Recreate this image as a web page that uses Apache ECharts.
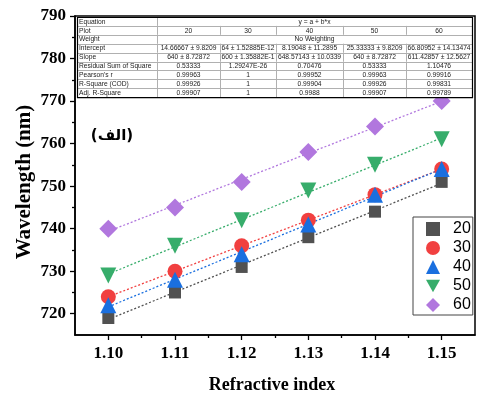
<!DOCTYPE html>
<html><head><meta charset="utf-8">
<script src="https://cdn.jsdelivr.net/npm/echarts@6/dist/echarts.min.js"></script>
<style>html,body{margin:0;padding:0;background:#fff}#c{width:477px;height:396px}</style>
</head><body><div id="c"></div>
<script>
// ---- data ----
const refractive = [1.10, 1.11, 1.12, 1.13, 1.14, 1.15];
const seriesNames = ['20', '30', '40', '50', '60'];
const s20 = [719, 725, 731, 738, 744, 751];
const s30 = [724, 730, 736, 742, 748, 754];
const s40 = [722, 728, 734, 741, 748, 754];
const s50 = [729, 736, 742, 749, 755, 761];
const s60 = [740, 745, 751, 758, 764, 770];
const intercepts = [14.66667, 64, 8.19048, 25.33333, 66.80952];
const slopes = [640, 600, 648.57143, 640, 611.42857];
const yMajorTicks = [720, 730, 740, 750, 760, 770, 780, 790];
const yMinorTicks = [725, 735, 745, 755, 765, 775, 785];
const xMajorTicks = [1.10, 1.11, 1.12, 1.13, 1.14, 1.15];
const xMinorTicks = [1.105, 1.115, 1.125, 1.135, 1.145];
const tableLabels = ['Equation', 'Plot', 'Weight', 'Intercept', 'Slope', 'Residual Sum of Square', "Pearson's r", 'R-Square (COD)', 'Adj. R-Square'];
const equationText = 'y = a + b*x';
const weightText = 'No Weighting';
const interceptText = ['14.66667 \u00b1 9.8209', '64 \u00b1 1.52885E-12', '8.19048 \u00b1 11.2895', '25.33333 \u00b1 9.8209', '66.80952 \u00b1 14.13474'];
const slopeText = ['640 \u00b1 8.72872', '600 \u00b1 1.35882E-1', '648.57143 \u00b1 10.0339', '640 \u00b1 8.72872', '611.42857 \u00b1 12.5627'];
const rssText = ['0.53333', '1.29247E-26', '0.70476', '0.53333', '1.10476'];
const pearsonText = ['0.99963', '1', '0.99952', '0.99963', '0.99916'];
const r2Text = ['0.99926', '1', '0.99904', '0.99926', '0.99831'];
const adjR2Text = ['0.99907', '1', '0.9988', '0.99907', '0.99789'];
const panelLabel = '(\u0627\u0644\u0641)';
const xTitle = 'Refractive index';
const yTitle = 'Wavelength (nm)';

// ---- styles ----
const colors = ['#515151', '#F14040', '#1A6FDF', '#37AD6B', '#B177DE'];
const symbols = ['rect', 'circle', 'triangle', 'path://M0,0 L10,0 L5,9 Z', 'diamond'];
const symSizes = [12, 15, 16, 16, 18];
const allSeries = [s20, s30, s40, s50, s60];

const series = [];
allSeries.forEach((vals, i) => {
  const x0 = refractive[0], x1 = refractive[refractive.length - 1];
  series.push({
    name: 'fit' + seriesNames[i], type: 'line', symbol: 'none', silent: true, z: 2,
    data: [[x0, intercepts[i] + slopes[i] * x0], [x1, intercepts[i] + slopes[i] * x1]],
    lineStyle: { color: colors[i], width: 1.3, type: [2, 2] }
  });
});
allSeries.forEach((vals, i) => {
  series.push({
    name: seriesNames[i], type: 'scatter', z: 5,
    symbol: symbols[i], symbolSize: symSizes[i],
    itemStyle: { color: colors[i], opacity: 1 },
    data: refractive.map((x, j) => [x, vals[j]])
  });
});

// ---- table graphic ----
const T = { x0: 77, x1: 472, y0: 17, rowH: 8.9 };
const colX = [77, 157, 220, 276, 343, 406, 472];
const g = [];
const nRows = tableLabels.length;
const tH = nRows * T.rowH;
g.push({ type: 'rect', z: 100, shape: { x: T.x0, y: T.y0, width: T.x1 - T.x0, height: tH }, style: { fill: '#fff', stroke: null } });
for (let r = 1; r < nRows; r++) {
  const y = Math.round(T.y0 + r * T.rowH) + 0.5;
  g.push({ type: 'line', z: 101, shape: { x1: T.x0, y1: y, x2: T.x1, y2: y }, style: { stroke: '#b0b0b0', lineWidth: 1 } });
}
for (let r = 0; r < nRows; r++) {
  const ya = T.y0 + r * T.rowH, yb = ya + T.rowH;
  const merged = (r === 0 || r === 2);
  const cols = merged ? [colX[1]] : colX.slice(1, 6);
  cols.forEach(cx => {
    g.push({ type: 'line', z: 101, shape: { x1: cx + 0.5, y1: ya, x2: cx + 0.5, y2: yb }, style: { stroke: '#b0b0b0', lineWidth: 1 } });
  });
}
g.push({ type: 'rect', z: 102, shape: { x: T.x0 + 0.5, y: T.y0 + 0.5, width: T.x1 - T.x0, height: tH }, style: { fill: null, stroke: '#000', lineWidth: 1.2 } });
const rowVals = [null, seriesNames, null, interceptText, slopeText, rssText, pearsonText, r2Text, adjR2Text];
const txt = (text, x, y, align) => ({ type: 'text', z: 103, style: { text, x, y, fill: '#222', fontSize: 6.7, fontFamily: 'Liberation Sans, Arial, sans-serif', align, verticalAlign: 'middle' } });
for (let r = 0; r < nRows; r++) {
  const yc = T.y0 + r * T.rowH + T.rowH / 2 + 0.3;
  g.push(txt(tableLabels[r], T.x0 + 2, yc, 'left'));
  if (r === 0 || r === 2) {
    g.push(txt(r === 0 ? equationText : weightText, (colX[1] + colX[6]) / 2, yc, 'center'));
  } else {
    rowVals[r].forEach((v, c) => g.push(txt(v, (colX[c + 1] + colX[c + 2]) / 2, yc, 'center')));
  }
}
g.push({ type: 'text', z: 50, style: { text: panelLabel, x: 112, y: 136, fill: '#000', fontSize: 15, fontWeight: 'bold', fontFamily: 'DejaVu Sans', align: 'center', verticalAlign: 'middle' } });
g.push({ type: 'text', z: 50, style: { text: xTitle, x: 272, y: 385, fill: '#000', fontSize: 18, fontWeight: 'bold', fontFamily: 'Liberation Serif, Times New Roman, serif', align: 'center', verticalAlign: 'middle' } });
g.push({ type: 'text', z: 50, rotation: Math.PI / 2, x: 25, y: 182, style: { text: yTitle, x: 0, y: 0, fill: '#000', fontSize: 21, fontWeight: 'bold', fontFamily: 'Liberation Serif, Times New Roman, serif', align: 'center', verticalAlign: 'middle' } });

const labelFont = { color: '#000', fontSize: 17, fontWeight: 'bold', fontFamily: 'Liberation Serif, Times New Roman, serif' };
const axisLineStyle = { color: '#000', width: 1.5 };

const option = {
  animation: false,
  backgroundColor: '#fff',
  grid: { left: 75, right: 2, top: 16, bottom: 61, show: true, borderColor: '#000', borderWidth: 1.5, backgroundColor: 'transparent' },
  xAxis: [
    { type: 'value', min: 1.095, max: 1.155, splitLine: { show: false },
      axisLine: { show: true, lineStyle: axisLineStyle },
      axisTick: { show: true, inside: false, length: 5, lineStyle: { color: '#000', width: 1.3 }, customValues: xMajorTicks },
      axisLabel: { ...labelFont, margin: 10, customValues: xMajorTicks, formatter: v => v.toFixed(2) } },
    { type: 'value', min: 1.095, max: 1.155, position: 'bottom', splitLine: { show: false },
      axisLine: { show: false },
      axisTick: { show: true, inside: false, length: 3, lineStyle: { color: '#000', width: 1.3 }, customValues: xMinorTicks },
      axisLabel: { show: false } }
  ],
  yAxis: [
    { type: 'value', min: 715, max: 790, splitLine: { show: false },
      axisLine: { show: true, lineStyle: axisLineStyle },
      axisTick: { show: true, inside: false, length: 5, lineStyle: { color: '#000', width: 1.3 }, customValues: yMajorTicks },
      axisLabel: { ...labelFont, margin: 9, customValues: yMajorTicks } },
    { type: 'value', min: 715, max: 790, position: 'left', splitLine: { show: false },
      axisLine: { show: false },
      axisTick: { show: true, inside: false, length: 3, lineStyle: { color: '#000', width: 1.3 }, customValues: yMinorTicks },
      axisLabel: { show: false } }
  ],
  legend: {
    orient: 'vertical', left: 413, top: 217,
    data: seriesNames,
    backgroundColor: '#fff', borderColor: '#444', borderWidth: 1, borderRadius: 0,
    padding: [4, 2, 2, 13],
    itemWidth: 14, itemHeight: 14, itemGap: 3,
    textStyle: { fontSize: 16, fontFamily: 'Liberation Sans, Arial, sans-serif', color: '#000', padding: [0, 0, 0, 8], lineHeight: 14 }
  },
  graphic: g,
  series: series
};
const chart = echarts.init(document.getElementById('c'), null, { renderer: 'canvas' });
chart.setOption(option);
</script>
</body></html>
